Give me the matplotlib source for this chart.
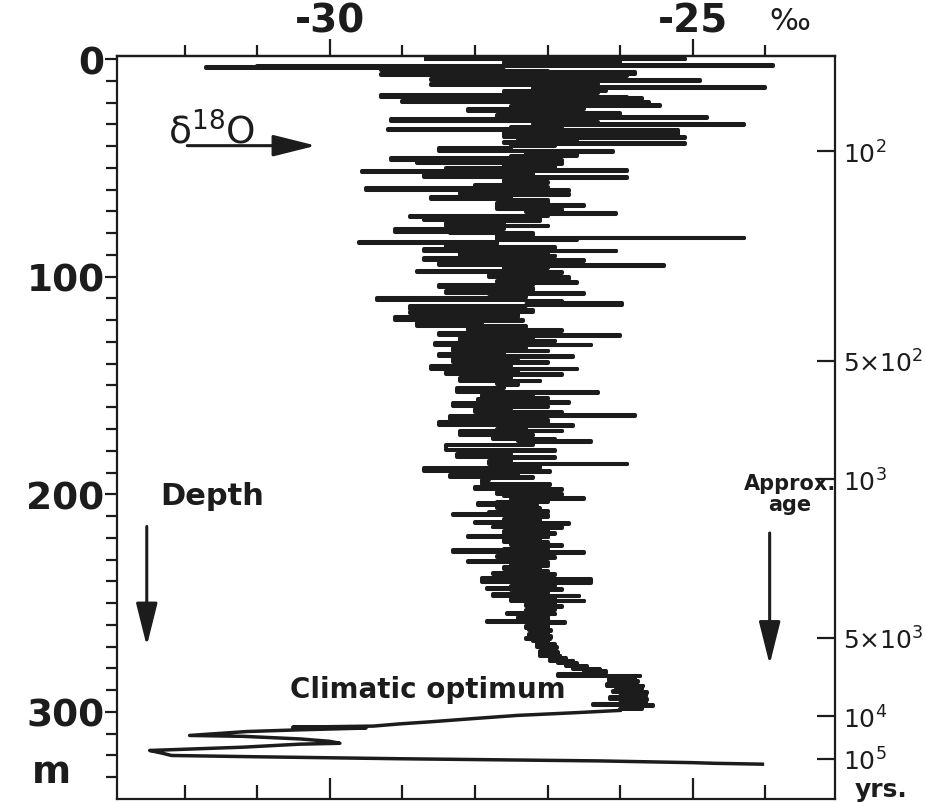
import matplotlib
matplotlib.use("Agg")
import matplotlib.pyplot as plt
from matplotlib.ticker import FixedLocator

plt.rcParams['font.family'] = ['DejaVu Sans']
plt.rcParams['mathtext.fontset'] = 'dejavusans'

# ---- data: delta-18O profile (per mil) vs depth (m) ----
# upper core, 0 - 200 m
depth_upper = [
    0.0, 0.2, 0.8, 1.4, 2.0, 2.6, 3.0, 3.6, 4.2, 4.6, 5.0, 5.4, 6.0, 6.9, 7.4, 7.9, 8.6, 9.2, 9.8, 10.2,
    10.9, 11.5, 12.1, 12.5, 13.0, 13.4, 14.1, 14.7, 15.3, 15.8, 16.5, 17.3, 17.7, 18.0, 18.4, 19.2, 19.9, 20.5, 21.0, 21.5,
    22.2, 23.0, 23.7, 24.2, 25.0, 25.8, 26.5, 27.0, 27.7, 28.3, 28.7, 29.4, 30.0, 30.5, 31.3, 32.0, 32.8, 33.4, 34.2, 35.0,
    35.8, 36.4, 37.2, 38.0, 38.7, 39.1, 40.0, 41.0, 42.1, 42.5, 43.5, 44.5, 45.5, 46.6, 47.0,
    47.8, 48.3, 49.2, 50.0, 51.0, 51.4, 52.0, 52.4, 53.2, 54.0, 54.5, 55.5, 56.6, 57.0, 58.0, 58.9, 59.3, 60.3, 60.7, 61.5,
    62.0, 62.4, 63.4, 64.3, 64.7, 66.0, 67.2, 67.6, 68.9, 69.2, 70.2, 70.9, 71.2, 72.0, 72.7, 73.1, 74.0, 74.5, 75.5, 76.5,
    76.8, 78.0, 79.5, 79.8, 81.0, 82.0, 82.3, 83.2, 84.0, 84.5, 85.0, 86.3, 86.7, 87.5, 88.0, 88.3, 89.3, 90.3, 90.6, 91.6,
    92.5, 92.8, 93.8, 94.7, 95.1, 96.2, 97.2, 98.0, 98.3, 99.3, 100.3, 101.0, 101.8, 102.5, 102.9, 103.8, 104.9, 105.2, 106.5, 107.5,
    107.9, 109.2, 110.0, 110.9, 111.3, 112.2, 112.8, 113.6, 114.8, 115.2, 116.0, 116.8, 117.2, 118.5, 119.8, 120.2, 121.3, 122.5, 122.9, 123.8,
    124.6, 125.0, 126.0, 127.0, 127.3, 128.3, 129.4, 129.7, 130.6, 131.3, 131.6, 132.8, 134.0, 134.3, 135.5, 136.6, 136.9, 138.0, 139.3, 139.6,
    141.0, 142.3, 142.6, 143.6, 144.7, 145.0, 146.5, 147.8, 148.1, 149.3, 149.6, 151.3, 153.0, 153.3, 154.5, 155.9, 156.2, 157.5, 157.9, 159.3,
    159.7, 161.0, 162.3, 162.6, 163.5, 164.0, 165.4, 165.7, 167.0, 168.3, 168.6, 169.8, 170.7, 171.0, 172.6, 172.9, 173.8, 174.6, 174.9, 175.7,
    176.0, 177.5, 179.8, 180.1, 181.5, 183.0, 183.3, 184.8, 186.0, 186.3, 187.8, 189.5, 189.8, 191.0, 192.1, 192.4, 193.5, 195.2, 195.5, 196.5,
    197.5, 197.8, 199.0, 199.8,
]
d18O_upper = [
    -28.7, -25.1, -27.2, -26.0, -27.6, -26.4, -23.9, -31.0, -31.7, -28.8, -29.3, -27.6, -27.0, -25.8, -29.3, -25.9, -27.5, -26.6, -28.6, -24.9,
    -27.1, -26.3, -28.6, -26.4, -27.1, -24.0, -27.2, -26.2, -27.6, -26.3, -27.2, -29.3, -25.9, -27.3, -25.7, -27.4, -29.0, -25.6, -27.0, -25.45,
    -27.5, -26.5, -28.1, -26.6, -27.4, -26.0, -27.7, -24.8, -27.0, -29.15, -27.1, -26.3, -27.2, -24.3, -26.8, -27.5, -29.2, -25.2, -27.6, -25.2,
    -27.6, -25.1, -26.6, -27.4, -27.6, -25.1, -26.9, -27.5, -28.5, -26.1, -27.3, -26.6, -27.5, -29.15, -26.8,
    -28.8, -26.8, -27.6, -26.9, -28.4, -25.9, -29.55, -28.2, -27.2, -28.7, -25.9, -27.3, -27.6, -27.0, -27.6, -28.0, -27.0, -29.5, -26.7, -27.6,
    -28.2, -26.7, -27.5, -28.6, -27.5, -27.0, -27.7, -26.5, -27.7, -26.8, -27.3, -26.8, -26.05, -27.0, -28.9, -27.1, -28.7, -27.1, -27.6, -28.4,
    -27.0, -27.6, -29.1, -28.35, -27.2, -27.7, -24.3, -26.6, -27.7, -29.6, -27.7, -28.4, -26.9, -27.5, -28.7, -26.05, -27.0, -28.2, -26.9, -27.5,
    -28.7, -26.5, -27.3, -28.5, -25.4, -27.0, -27.6, -28.8, -26.8, -27.3, -27.8, -26.7, -27.3, -27.7, -26.6, -27.2, -28.5, -27.75, -27.2, -28.4,
    -26.5, -27.3, -27.8, -29.35, -27.3, -26.8, -25.98, -27.3, -28.9, -27.75, -27.2, -28.9, -27.96, -27.4, -29.1, -27.34, -27.9, -28.8, -27.3, -27.9,
    -28.1, -26.8, -27.6, -28.5, -26.0, -27.2, -28.2, -26.9, -27.6, -28.55, -26.4, -27.3, -28.3, -27.0, -27.6, -28.5, -26.65, -27.4, -28.3, -27.0,
    -27.5, -28.6, -26.6, -27.4, -28.4, -26.8, -27.5, -28.2, -27.1, -27.7, -27.4, -27.6, -28.25, -26.3, -27.2, -27.9, -27.0, -27.96, -26.7, -28.3,
    -27.0, -27.5, -28.0, -26.8, -27.4, -25.8, -28.35, -27.3, -27.0, -28.5, -26.65, -27.3, -27.7, -26.8, -28.2, -27.2, -27.5, -27.75, -26.9, -27.4,
    -26.4, -27.2, -28.4, -26.9, -27.5, -28.25, -26.9, -27.5, -27.8, -25.9, -27.1, -28.7, -26.97, -27.4, -28.35, -27.2, -27.8, -27.9, -26.97, -27.4,
    -28.0, -26.8, -27.3, -27.7,
]
# lower core down to the climatic optimum, 200 - 299 m
depth_lower = [
    200.1, 200.8, 201.4, 201.8, 202.1, 202.8, 203.5, 204.2, 205.0, 205.4,
    206.1, 206.8, 207.5, 208.2, 208.9, 209.3, 209.6, 210.3, 211.0, 211.4,
    212.0, 212.6, 213.2, 213.6, 214.3, 214.8, 215.2, 215.5, 216.2, 216.9,
    217.6, 218.3, 219.0, 219.4, 219.7, 220.4, 221.1, 221.8, 222.5, 223.2,
    223.7, 224.4, 225.1, 225.8, 226.5, 226.8, 227.5, 228.2, 228.9, 229.3,
    230.0, 230.6, 231.1, 231.5, 232.2, 232.9, 233.6, 234.3, 234.6, 235.3,
    236.0, 236.6, 236.9, 237.6, 238.3, 239.0, 239.4, 240.0, 240.5, 240.8,
    241.5, 242.2, 242.9, 243.5, 243.8, 244.5, 245.2, 245.9, 246.5, 246.8,
    247.5, 248.2, 248.8, 249.1, 249.8, 250.5, 251.2, 251.6, 252.3, 253.0,
    253.7, 254.4, 254.9, 255.2, 255.9, 256.6, 257.3, 258.0, 258.8, 259.1,
    259.8, 260.5, 261.2, 261.8, 262.4, 263.0, 263.7, 264.4, 265.1, 265.8,
    266.4, 266.7, 267.4, 268.1, 268.8, 269.5, 270.2, 270.5, 271.2, 271.9,
    272.6, 273.3, 274.1, 274.4, 275.1, 275.8, 276.4, 276.7, 277.4, 278.1,
    278.8, 279.5, 280.2, 280.5, 281.2, 281.9, 282.6, 283.3, 283.6, 284.3,
    285.0, 285.7, 286.4, 287.1, 287.9, 288.2, 288.9, 289.6, 290.3, 290.9,
    291.2, 291.9, 292.6, 293.3, 294.0, 294.3, 295.0, 295.7, 296.4, 297.0,
    297.3, 298.0, 298.6,
]
d18O_lower = [
    -26.8, -27.6, -27.0, -27.4, -26.5, -27.5, -27.0, -27.7, -27.96, -27.15,
    -27.7, -27.1, -27.6, -27.0, -27.8, -28.3, -27.4, -27.0, -27.5, -27.2,
    -27.6, -27.1, -28.0, -26.7, -27.5, -27.0, -27.75, -26.8, -27.5, -27.0,
    -27.6, -26.9, -27.4, -28.1, -27.0, -27.6, -27.1, -27.6, -27.0, -27.5,
    -26.8, -27.4, -27.0, -27.6, -28.3, -26.5, -27.4, -27.0, -27.7, -26.9,
    -27.5, -27.1, -28.1, -27.0, -27.5, -27.0, -27.4, -27.6, -27.1, -27.5,
    -27.0, -27.75, -26.9, -27.5, -27.1, -27.9, -26.4, -27.3, -27.9, -26.4,
    -27.2, -26.9, -27.5, -27.84, -26.8, -27.3, -27.0, -27.5, -27.75, -26.56,
    -27.2, -26.9, -27.5, -26.5, -27.2, -26.9, -27.3, -26.8, -27.2, -26.9,
    -27.3, -27.0, -27.56, -26.9, -27.3, -27.0, -27.4, -27.0, -27.84, -26.76,
    -27.2, -27.0, -27.3, -27.0, -27.25, -26.95, -27.2, -27.0, -27.25, -26.95,
    -27.29, -26.97, -27.2, -27.0, -27.15, -26.9, -27.15, -26.87, -27.05, -26.9,
    -27.1, -26.85, -27.1, -26.83, -26.95, -26.75, -26.97, -26.65, -26.85, -26.6,
    -26.75, -26.45, -26.65, -26.28, -26.5, -26.2, -26.45, -26.86, -25.73, -26.1,
    -25.8, -26.15, -25.75, -26.0, -26.18, -25.69, -26.0, -25.7, -26.05, -26.10,
    -25.63, -25.95, -25.65, -26.0, -26.14, -25.63, -25.9, -25.65, -26.0, -26.38,
    -25.55, -25.85, -25.7,
]
# deepest part (below the climatic optimum), 299 - 324 m
depth_deep = [
    299.3, 300.4, 301.6, 303.0, 304.5, 305.5, 306.5, 307.0, 307.4, 308.2,
    309.0, 310.8, 311.2, 312.4, 313.5, 314.4, 314.8, 316.2, 317.7, 319.0,
    320.0, 320.6, 321.5, 322.5, 323.3, 323.6, 324.0,
]
d18O_deep = [
    -26.0, -26.65, -27.42, -28.0, -28.6, -29.04, -29.4, -30.51, -29.5, -30.4,
    -31.14, -31.93, -31.2, -30.41, -30.0, -29.86, -30.41, -31.2, -32.48, -32.3,
    -32.18, -31.0, -29.04, -26.28, -25.0, -24.7, -24.04,
]

# axis ticks / labels
top_major = [-30, -25]
top_major_labels = ["-30", "-25"]
top_minor = [-32, -31, -29, -28, -27, -26, -24]
depth_major = [0, 100, 200, 300]
depth_labels = ["0", "100", "200", "300"]
depth_minor = [10, 20, 30, 40, 50, 60, 70, 80, 90, 110, 120, 130, 140, 150, 160, 170, 180, 190,
               210, 220, 230, 240, 250, 260, 270, 280, 290, 310, 320, 330]
age_depths = [42.3, 138.7, 193.0, 266.0, 302.0, 321.5]
age_labels = [r"$10^2$", r"5×$10^2$", r"$10^3$", r"5×$10^3$", r"$10^4$", r"$10^5$"]

XLIM = (-32.93, -23.04)
YLIM = (340.0, -1.4)
INK = '#1c1c1c'

assert len(depth_upper) == len(d18O_upper)
assert len(depth_lower) == len(d18O_lower)
assert len(depth_deep) == len(d18O_deep)

fig = plt.figure(figsize=(9.25, 8.03), dpi=100)
ax = fig.add_axes([117/925, 1-800/803, (835-117)/925, (800-57)/803])

# finely sampled part drawn as horizontal steps; deep part as a plain line
step_depth = depth_upper + depth_lower + depth_deep[:1]
step_vals = d18O_upper + d18O_lower + d18O_deep[:1]
ax.plot(step_vals, step_depth, color=INK, lw=2.9, drawstyle='steps-post', solid_capstyle='butt')
ax.plot(d18O_deep, depth_deep, color=INK, lw=2.5)
ax.set_xlim(*XLIM)
ax.set_ylim(*YLIM)

for s in ax.spines.values():
    s.set_linewidth(1.6)
    s.set_color(INK)

# bottom ticks (pointing up, into the plot), no labels
ax.xaxis.set_major_locator(FixedLocator(top_major))
ax.xaxis.set_minor_locator(FixedLocator(top_minor))
ax.tick_params(axis='x', which='major', direction='in', length=15, width=1.6, bottom=True, top=False,
               labelbottom=False, labeltop=False, color=INK)
ax.tick_params(axis='x', which='minor', direction='in', length=10, width=1.6, bottom=True, top=False, color=INK)

# top ticks (pointing up, outward) with labels
sec = ax.secondary_xaxis('top')
sec.xaxis.set_major_locator(FixedLocator(top_major))
sec.xaxis.set_minor_locator(FixedLocator(top_minor))
sec.set_xticklabels(top_major_labels, fontweight='bold')
sec.tick_params(axis='x', which='major', direction='out', length=12, width=1.6, pad=0, labelsize=28,
                color=INK, labelcolor=INK)
sec.tick_params(axis='x', which='minor', direction='out', length=8, width=1.6, color=INK)
sec.spines['top'].set_linewidth(1.6)

# left depth ticks
ax.yaxis.set_major_locator(FixedLocator(depth_major))
ax.yaxis.set_minor_locator(FixedLocator(depth_minor))
ax.set_yticklabels(depth_labels, fontweight='bold')
ax.tick_params(axis='y', which='major', direction='out', length=9, width=1.6, pad=0, labelsize=27,
               left=True, right=False, color=INK, labelcolor=INK)
ax.tick_params(axis='y', which='minor', direction='out', length=8, width=1.6, left=True, right=False, color=INK)

# right age ticks
ax2 = ax.twinx()
ax2.set_ylim(*YLIM)
ax2.yaxis.set_major_locator(FixedLocator(age_depths))
ax2.set_yticklabels(age_labels)
ax2.tick_params(axis='y', which='major', direction='in', length=13, width=1.6, pad=6, labelsize=18,
                color=INK, labelcolor=INK)
for s in ax2.spines.values():
    s.set_visible(False)

# annotations
arrow = dict(arrowstyle='-|>,head_length=1.2,head_width=0.3', lw=2.2, color=INK, mutation_scale=22)
ax.text(-32.23, 33.5, r"δ$^{18}$O", fontsize=27, ha='left', va='center', color=INK)
ax.annotate('', xy=(-30.15, 39.8), xytext=(-32.0, 39.8), arrowprops=arrow)
ax.text(-32.34, 200.7, "Depth", fontsize=22, fontweight='bold', ha='left', va='center', color=INK)
ax.annotate('', xy=(-32.52, 271.0), xytext=(-32.52, 213.5), arrowprops=arrow)
ax.text(-23.66, 199.5, "Approx.\nage", fontsize=15, fontweight='bold', ha='center', va='center',
        linespacing=1.05, color=INK)
ax.annotate('', xy=(-23.94, 279.5), xytext=(-23.94, 216.5), arrowprops=arrow)
ax.text(-30.55, 289.4, "Climatic optimum", fontsize=20, fontweight='bold', ha='left', va='center', color=INK)

fig.text(51/925, 1-773/803, "m", fontsize=27, fontweight='bold', ha='center', va='center', color=INK)
fig.text(855/925, 1-790/803, "yrs.", fontsize=18, fontweight='bold', ha='left', va='center', color=INK)
fig.text(790/925, 1-22/803, "‰", fontsize=22, ha='center', va='center', color=INK)

fig.savefig("out.png", dpi=100, facecolor='white')
